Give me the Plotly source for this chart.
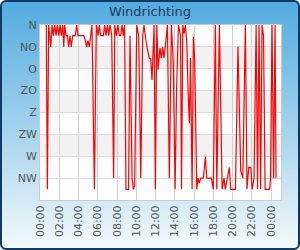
import base64
import pandas as pd
import plotly.graph_objects as go

# minutes after 00:00 of the day shown, and wind direction in degrees
minutes = [39, 46, 54, 67, 75, 83, 92, 100, 108, 117, 125, 133, 142, 148, 154, 162, 170, 179,
           187, 195, 204, 212, 220, 229, 237, 249, 274, 282, 291, 299, 307, 316, 324, 339,
           351, 362, 370, 378, 387, 395, 403, 411, 420, 428, 436, 447, 459, 466, 476, 486,
           494, 503, 511, 519, 527, 536, 552, 561, 574, 582, 590, 603, 615, 628, 640, 648,
           661, 673, 681, 690, 698, 711, 719, 728, 736, 748, 756, 765, 773, 781, 794, 806,
           819, 831, 842, 851, 863, 876, 882, 890, 898, 906, 915, 923, 931, 938, 948, 956,
           964, 977, 985, 993, 1002, 1018, 1031, 1039, 1068, 1080, 1093, 1102, 1118, 1135,
           1147, 1155, 1166, 1180, 1189, 1218, 1234, 1251, 1264, 1280, 1290, 1301, 1314,
           1322, 1334, 1347, 1356, 1365, 1375, 1384, 1393, 1403, 1431, 1437, 1446, 1456,
           1465, 1471]
direction = [0, 338, 0, 45, 0, 22, 0, 22, 0, 22, 0, 22, 0, 45, 0, 22, 22, 45,
             22, 45, 22, 22, 22, 0, 22, 22, 22, 32, 45, 32, 45, 22, 0, 338,
             0, 22, 0, 22, 22, 22, 0, 22, 0, 22, 0, 20, 315, 0, 22, 0,
             22, 22, 0, 22, 0, 338, 338, 22, 315, 338, 330, 0, 22, 315, 22, 0,
             34, 51, 69, 69, 113, 0, 338, 0, 92, 47, 68, 45, 68, 45, 0, 315,
             0, 80, 338, 135, 0, 22, 338, 0, 18, 0, 35, 137, 202, 68, 338, 24,
             70, 338, 315, 325, 315, 315, 271, 315, 315, 338, 0, 338, 0, 338,
             315, 338, 315, 293, 338, 338, 45, 300, 315, 0, 338, 293, 293,
             338, 315, 0, 338, 0, 338, 0, 22, 338, 338, 315, 0, 315,
             0, 315]

dir_ticks = [0, 45, 90, 135, 180, 225, 270, 315]
dir_labels = ["N", "NO", "O", "ZO", "Z", "ZW", "W", "NW"]
title_text = "Windrichting"

W, H = 300, 250
ML, MR, MT, MB = 40, 19, 25, 50
PW, PH = W - ML - MR, H - MT - MB
Y_MAX = 360

day = pd.Timestamp("2024-05-01 00:00")
times = [day + pd.Timedelta(minutes=m) for m in minutes]
tick_times = [day + pd.Timedelta(hours=h) for h in range(0, 25, 2)]

# background: gradient card, white plot area and alternate bands
bands = ""
for lo in dir_ticks[1::2][:3]:
    y0 = MT + lo / Y_MAX * PH
    bands += f"<rect x='{ML}' y='{y0:.2f}' width='{PW}' height='{45 / Y_MAX * PH:.2f}' fill='#f2f2f2'/>"
svg = f"""<svg xmlns='http://www.w3.org/2000/svg' width='{W}' height='{H}'>
<defs><linearGradient id='g' x1='0' y1='0' x2='0' y2='1'>
<stop offset='0' stop-color='#52abdf'/><stop offset='0.55' stop-color='#a9d5ee'/>
<stop offset='1' stop-color='#f4fafd'/></linearGradient></defs>
<rect x='1' y='1' width='{W - 2}' height='{H - 2}' rx='5' ry='5' fill='url(#g)' stroke='#0f3a63' stroke-width='2'/>
<rect x='{ML}' y='{MT}' width='{PW}' height='{PH}' fill='#ffffff'/>
{bands}
</svg>"""
svg_uri = "data:image/svg+xml;base64," + base64.b64encode(svg.encode()).decode()

fig = go.Figure()
fig.add_trace(go.Scatter(x=times, y=direction, mode="lines",
                         line=dict(color="#ff0000", width=1.2), hoverinfo="skip"))

fig.update_layout(
    width=W, height=H,
    margin=dict(l=ML, r=MR, t=MT, b=MB),
    paper_bgcolor="rgba(0,0,0,0)", plot_bgcolor="rgba(0,0,0,0)",
    showlegend=False,
    images=[dict(source=svg_uri, xref="paper", yref="paper", x=-ML / PW, y=1 + MT / PH,
                 sizex=W / PW, sizey=H / PH, sizing="stretch", layer="below",
                 xanchor="left", yanchor="top")],
    title=dict(text=title_text, x=0.5, xanchor="center", y=0.955, yanchor="middle",
               font=dict(family="DejaVu Sans", size=13, color="#1b3a5c")),
    font=dict(family="DejaVu Sans", size=11, color="#555555"),
    xaxis=dict(type="date", range=[day, day + pd.Timedelta(minutes=1502)],
               tickvals=tick_times, tickformat="%H:%M", tickangle=-90,
               showgrid=True, gridcolor="#d0d0d0", gridwidth=1,
               showline=True, linecolor="#cccccc", mirror=True, zeroline=False,
               ticks="", tickfont=dict(size=11, color="#555555")),
    yaxis=dict(range=[Y_MAX, 0], tickvals=dir_ticks, ticktext=dir_labels,
               showgrid=True, gridcolor="#dddddd", gridwidth=1,
               showline=True, linecolor="#cccccc", mirror=True, zeroline=False,
               ticks="", tickfont=dict(size=11, color="#555555")),
)

fig.write_html("out.html")
